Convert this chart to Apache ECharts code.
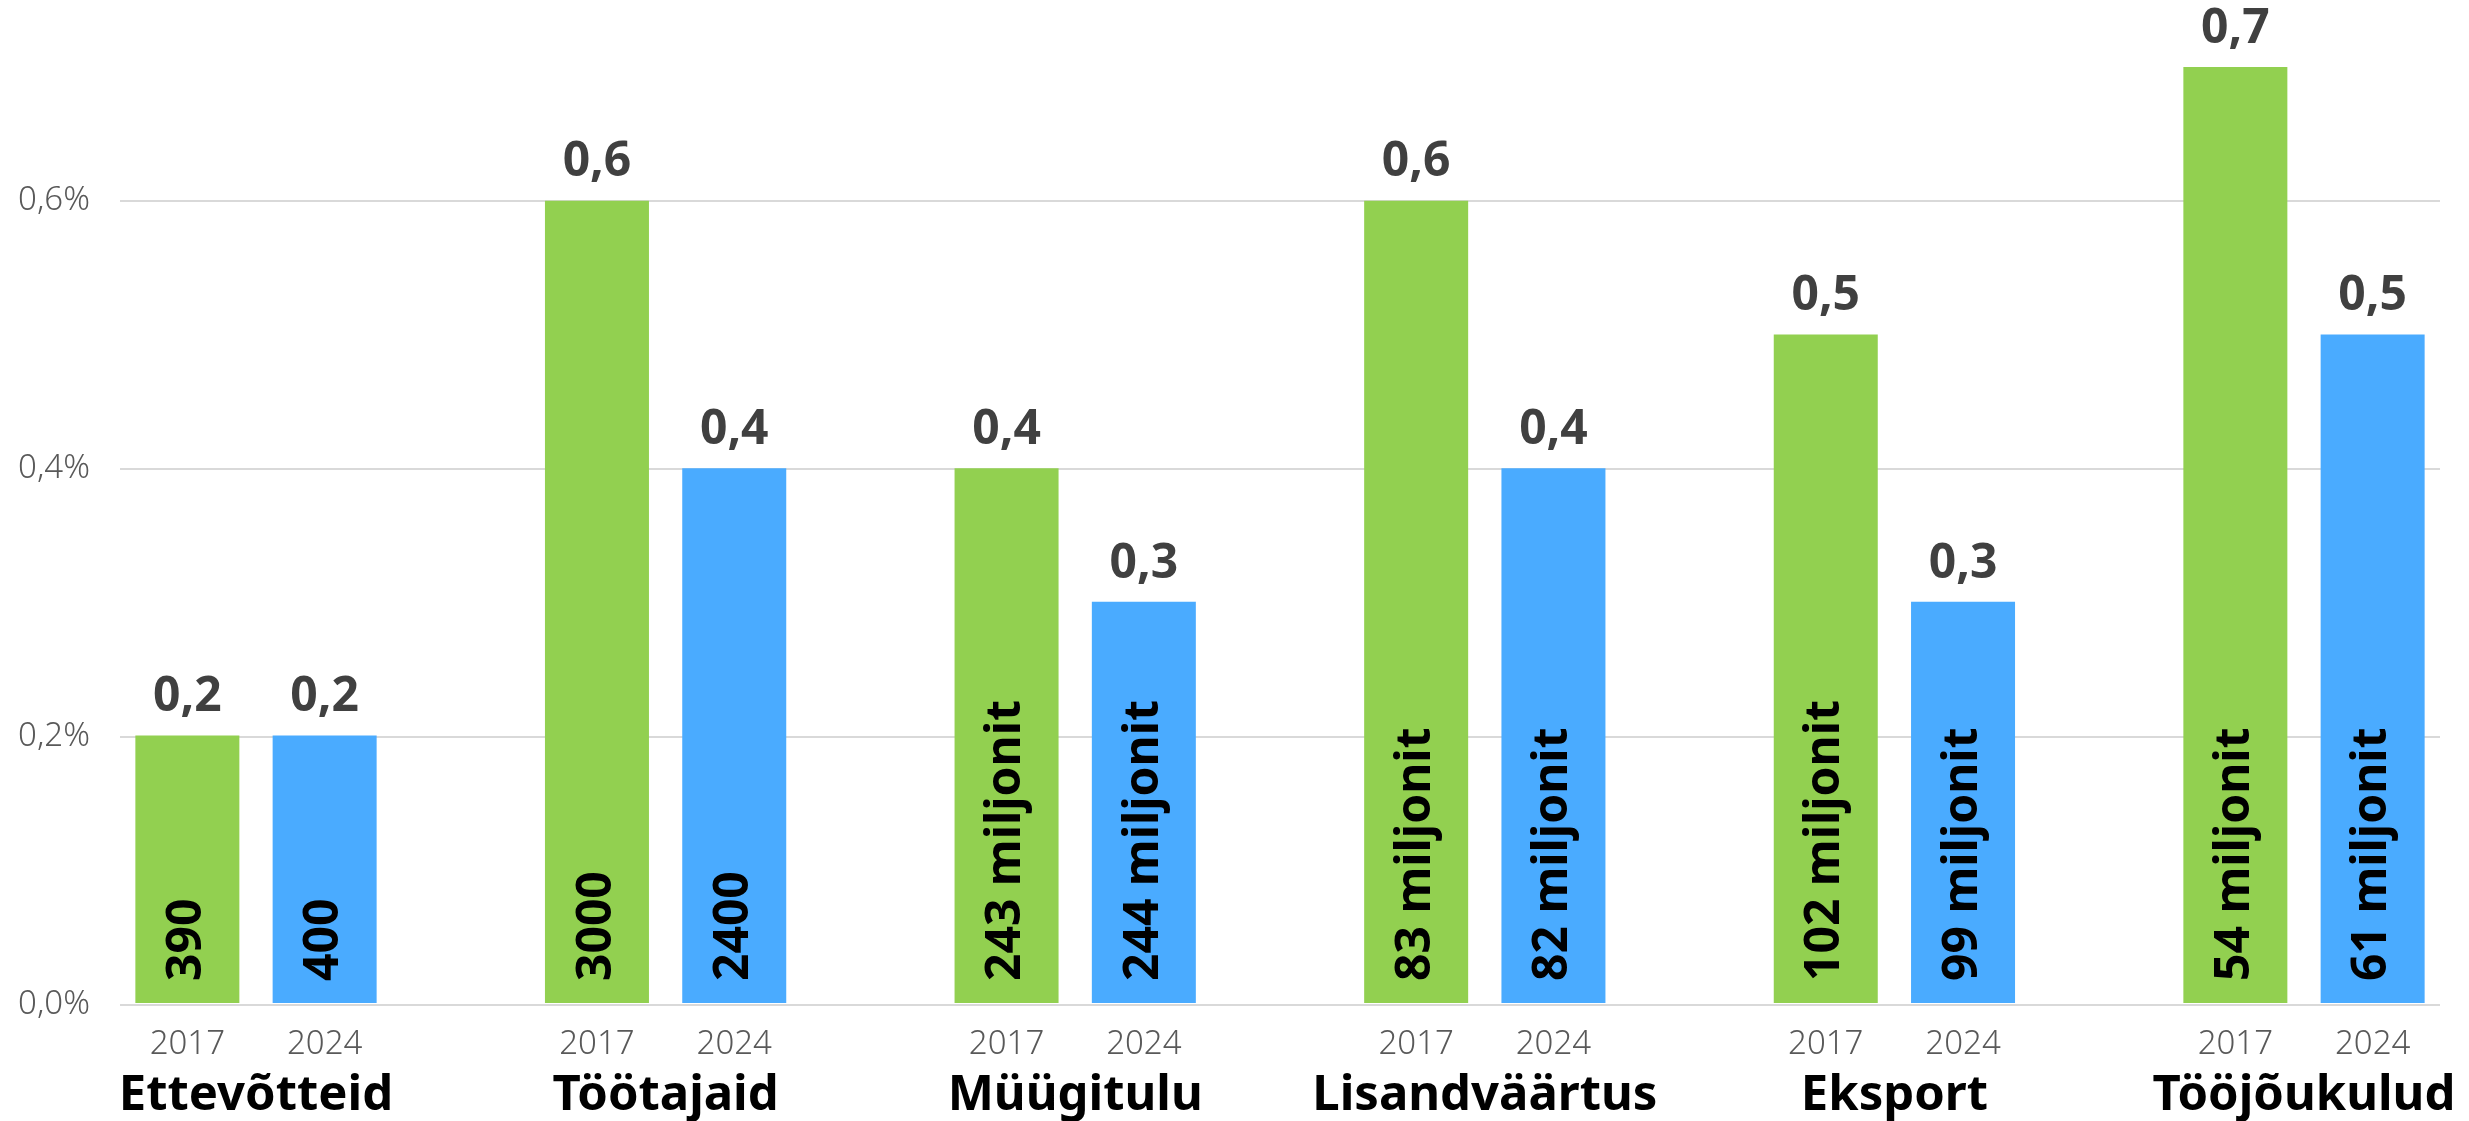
<!DOCTYPE html>
<html>
<head>
<meta charset="utf-8">
<script src="https://cdn.jsdelivr.net/npm/echarts@6/dist/echarts.min.js"></script>
<style>
  html, body { margin: 0; padding: 0; background: #fff; }
  #chart { width: 2469px; height: 1121px; }
</style>
</head>
<body>
<div id="chart"></div>
<script>
var categories = ['Ettevõtteid', 'Töötajaid', 'Müügitulu', 'Lisandväärtus', 'Eksport', 'Tööjõukulud'];
var years = ['2017', '2024'];
var share2017 = [0.2, 0.6, 0.4, 0.6, 0.5, 0.7];
var share2024 = [0.2, 0.4, 0.3, 0.4, 0.3, 0.5];
var inner2017 = ['390', '3000', '243 miljonit', '83 miljonit', '102 miljonit', '54 miljonit'];
var inner2024 = ['400', '2400', '244 miljonit', '82 miljonit', '99 miljonit', '61 miljonit'];

var green = '#92D050';
var blue = '#4AABFF';
var font = 'Noto Sans';

var chart = echarts.init(document.getElementById('chart'));

function comma(v) {
    return v.toFixed(1).replace('.', ',');
}

function mainBar(name, values, color) {
    return {
        name: name,
        type: 'bar',
        xAxisIndex: 1, yAxisIndex: 1,
        barWidth: 104, barGap: '32%',
        silent: true,
        itemStyle: {color: color},
        label: {
            show: true, position: 'top', distance: 14,
            fontFamily: font, fontSize: 48, fontWeight: 'bold', color: '#404040',
            formatter: function (p) { return comma(p.value); }
        },
        data: values
    };
}

function innerBar(name, values, texts) {
    return {
        name: name + ' inner',
        type: 'bar',
        xAxisIndex: 2, yAxisIndex: 1,
        barWidth: 104, barGap: '32%',
        silent: true,
        itemStyle: {color: 'transparent'},
        label: {
            show: true, position: 'insideBottom', distance: 22,
            rotate: 90, align: 'left', verticalAlign: 'middle',
            fontFamily: font, fontSize: 48, fontWeight: 'bold', color: '#000',
            formatter: function (p) { return texts[p.dataIndex]; }
        },
        data: values
    };
}

function yearBar(name, values) {
    return {
        name: name + ' year',
        type: 'bar',
        xAxisIndex: 3, yAxisIndex: 1,
        barWidth: 104, barGap: '32%',
        silent: true,
        itemStyle: {color: 'transparent'},
        label: {
            show: true, position: 'bottom', distance: 25,
            fontFamily: font, fontSize: 33, fontWeight: 300, color: '#595959',
            formatter: name
        },
        data: values
    };
}

var hiddenCat = {type: 'category', gridIndex: 1, boundaryGap: false, data: categories, show: false};

var option = {
    animation: false,
    grid: [
        {left: 120, right: 29, top: 67, bottom: 116},
        {left: 256, right: 165, top: 67, bottom: 116}
    ],
    xAxis: [
        {type: 'category', gridIndex: 0, data: categories, show: false},
        {
            type: 'category', gridIndex: 1, boundaryGap: false, data: categories,
            axisLine: {show: false}, axisTick: {show: false},
            axisLabel: {
                margin: 69, interval: 0,
                fontFamily: font, fontSize: 49, fontWeight: 'bold', color: '#000'
            }
        },
        hiddenCat,
        Object.assign({}, hiddenCat)
    ],
    yAxis: [
        {
            type: 'value', gridIndex: 0, min: 0, max: 0.7, interval: 0.2,
            axisLine: {show: false}, axisTick: {show: false},
            splitLine: {show: true, showMaxLine: false, lineStyle: {color: '#d9d9d9', width: 2}},
            axisLabel: {
                showMaxLabel: false, margin: 30,
                fontFamily: font, fontSize: 33, fontWeight: 300, color: '#595959',
                formatter: function (v) { return comma(v) + '%'; }
            }
        },
        {type: 'value', gridIndex: 1, min: 0, max: 0.7, show: false, splitLine: {show: false}}
    ],
    series: [
        mainBar(years[0], share2017, green),
        mainBar(years[1], share2024, blue),
        innerBar(years[0], share2017, inner2017),
        innerBar(years[1], share2024, inner2024),
        yearBar(years[0], share2017),
        yearBar(years[1], share2024)
    ]
};

chart.setOption(option);
</script>
</body>
</html>
